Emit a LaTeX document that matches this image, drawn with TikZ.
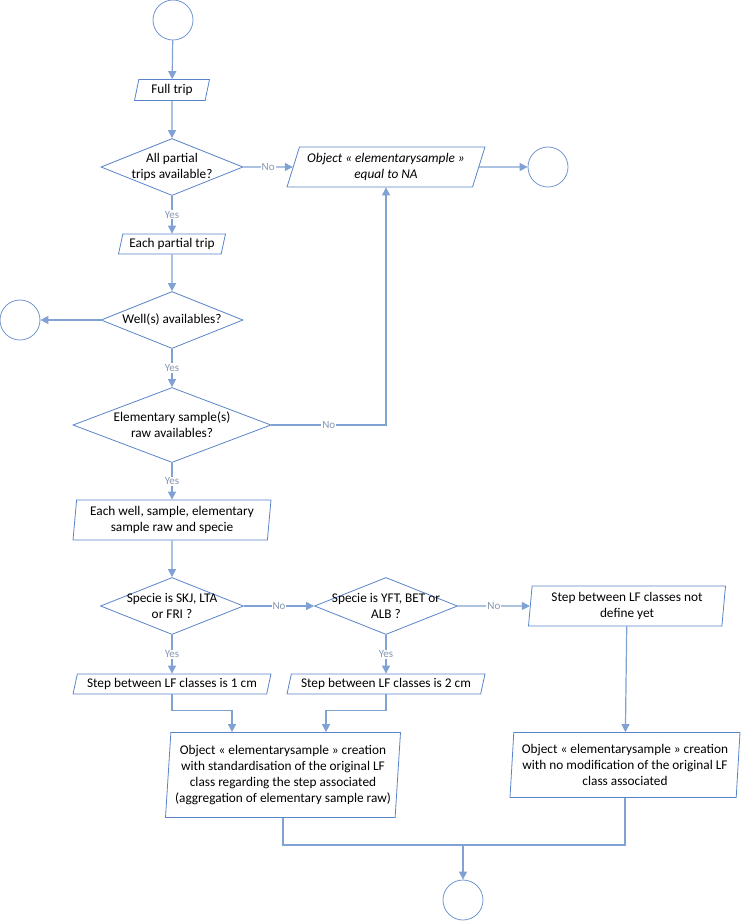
\documentclass[tikz,border=0pt]{standalone}
\usepackage{fontspec}
\setmainfont{Carlito}
\usetikzlibrary{arrows.meta,positioning,shapes.geometric}
\definecolor{flowLine}{HTML}{7FA1D3}
\definecolor{flowEdge}{HTML}{5A84C9}
\definecolor{flowNote}{HTML}{8497B0}
\newcommand{\flowfont}{\fontsize{13.3}{16}\selectfont}
\tikzset{
  flowstart/.style={circle,draw=flowEdge!85,fill=white,minimum size=40pt,inner sep=0pt,line width=0.8pt},
  flowio/.style={trapezium,trapezium left angle=72,trapezium right angle=108,trapezium stretches body,
    draw=flowEdge,fill=white,inner sep=1pt,align=center,font=\flowfont,line width=0.8pt},
  flowdecision/.style={diamond,draw=flowEdge,fill=white,inner sep=0pt,line width=0.8pt},
  flowtext/.style={align=center,font=\flowfont,inner sep=0pt},
  flowlabel/.style={fill=white,inner sep=1pt,text=flowNote,font=\fontsize{11}{12}\selectfont},
  arrow/.style={-{Triangle[length=8pt,width=8pt]},draw=flowLine,line width=1.2pt},
  joinline/.style={draw=flowLine,line width=1.2pt}
}

\begin{document}
\begin{tikzpicture}[x=1pt,y=-1pt]
  \useasboundingbox (0,0) rectangle (746,922);
  % top part
  \node[flowstart] (start) at (173,20) {};
  \node[flowio, minimum width=75pt, minimum height=21pt] (full) at (172,90) {Full trip};
  \node[flowdecision, minimum width=142pt, minimum height=57pt,
    label={[flowtext]center:All partial\\trips available?}] (d1) at (172,167) {};
  \node[flowio, trapezium left angle=67, trapezium right angle=113, minimum width=198pt, minimum height=40pt,
    font=\flowfont\itshape] (na) at (386,167) {Object « elementarysample »\\equal to NA};
  \node[flowstart] (endna) at (548,167) {};
  \node[flowio, minimum width=107pt, minimum height=20pt] (partial) at (172,244) {Each partial trip};
  \node[flowdecision, minimum width=142pt, minimum height=57pt,
    label={[flowtext]center:Well(s) availables?}] (d2) at (172,320) {};
  \node[flowstart] (endwell) at (20,320) {};
  \node[flowdecision, minimum width=198pt, minimum height=75pt,
    label={[flowtext]center:Elementary sample(s)\\raw availables?}] (d3) at (172,425) {};
  \node[flowio, trapezium left angle=83, trapezium right angle=97, minimum width=198pt, minimum height=40pt]
    (each) at (172,520) {Each well, sample, elementary\\sample raw and specie};
  % species
  \node[flowdecision, minimum width=143pt, minimum height=57pt,
    label={[flowtext]center:Specie is SKJ, LTA\\or FRI ?}] (d4) at (172,606) {};
  \node[flowdecision, minimum width=143pt, minimum height=57pt,
    label={[flowtext]center:Specie is YFT, BET or\\ALB ?}] (d5) at (386,606) {};
  \node[flowio, trapezium left angle=83, trapezium right angle=97, minimum width=197pt, minimum height=40pt]
    (notdef) at (627,606) {Step between LF classes not\\define yet};
  \node[flowio, minimum width=198pt, minimum height=20pt] (step1) at (172,684) {Step between LF classes is 1 cm};
  \node[flowio, minimum width=198pt, minimum height=20pt] (step2) at (386,684) {Step between LF classes is 2 cm};
  \node[flowio, trapezium left angle=85, trapezium right angle=95, minimum width=235pt, minimum height=85pt]
    (c1) at (283,775) {Object « elementarysample » creation\\with standardisation of the original LF\\class regarding the step associated\\(aggregation of elementary sample raw)};
  \node[flowio, trapezium left angle=85, trapezium right angle=95, minimum width=230pt, minimum height=65pt]
    (c2) at (625,765) {Object « elementarysample » creation\\with no modification of the original LF\\class associated};
  \node[flowstart] (end) at (463,900) {};
  \coordinate (join) at (463,845);
  % connectors
  \draw[arrow] (start) -- (full);
  \draw[arrow] (full) -- (d1);
  \draw[arrow] (d1) -- node[flowlabel] {No} (na);
  \draw[arrow] (na) -- (endna);
  \draw[arrow] (d1) -- node[flowlabel] {Yes} (partial);
  \draw[arrow] (partial) -- (d2);
  \draw[arrow] (d2) -- (endwell);
  \draw[arrow] (d2) -- node[flowlabel] {Yes} (d3);
  \draw[arrow] (d3.east) -- node[flowlabel] {No} (d3.east -| na.south) -- (na.south);
  \draw[arrow] (d3) -- node[flowlabel] {Yes} (each);
  \draw[arrow] (each) -- (d4);
  \draw[arrow] (d4) -- node[flowlabel] {No} (d5);
  \draw[arrow] (d5) -- node[flowlabel] {No} (notdef);
  \draw[arrow] (d4) -- node[flowlabel] {Yes} (step1);
  \draw[arrow] (d5) -- node[flowlabel] {Yes} (step2);
  \draw[arrow] (step1.south) -- ++(0,16) -| ([xshift=-51pt]c1.north);
  \draw[arrow] (step2.south) -- ++(0,16) -| ([xshift=43pt]c1.north);
  \draw[arrow] (notdef) -- (c2);
  \draw[joinline] (c1.south) |- (join) -| (c2.south);
  \draw[arrow] (join) -- (end);
\end{tikzpicture}
\end{document}
